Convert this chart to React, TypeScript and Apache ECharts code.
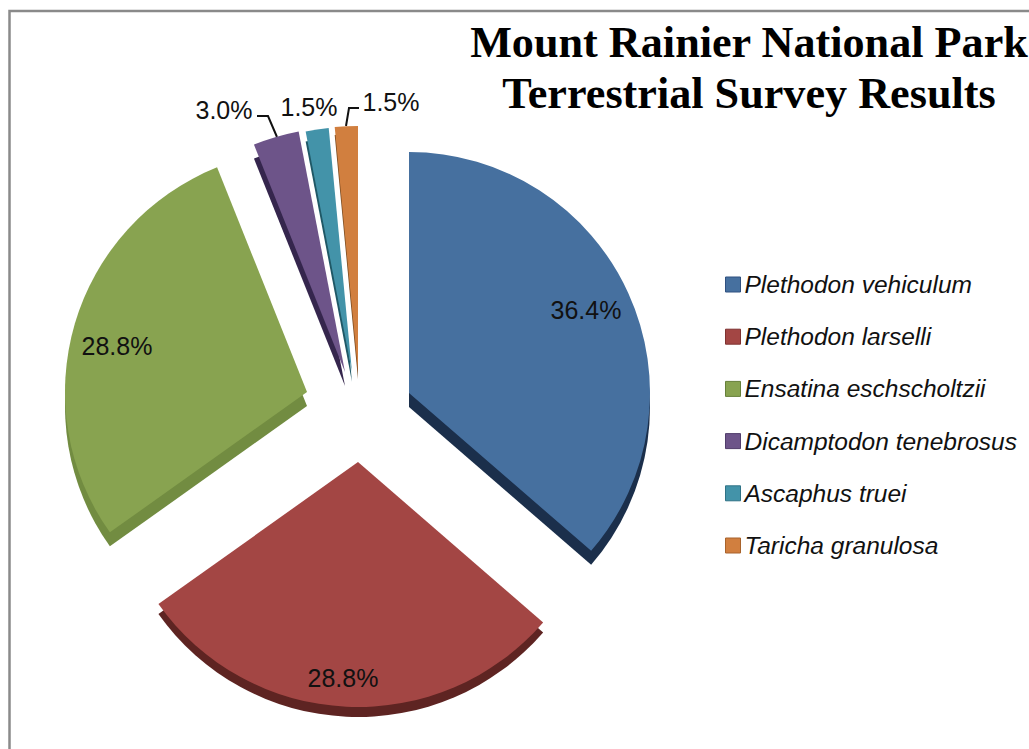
import React, { useEffect, useRef } from "react";
import * as echarts from "echarts";

// Data (percent labels correspond to these survey counts)
const titleLines = ["Mount Rainier National Park", "Terrestrial Survey Results"];
const species = [
  "Plethodon vehiculum",
  "Plethodon larselli",
  "Ensatina eschscholtzii",
  "Dicamptodon tenebrosus",
  "Ascaphus truei",
  "Taricha granulosa",
];
const counts = [24, 19, 19, 2, 1, 1];

// Styles
const topColors = ["#46709F", "#A34644", "#88A350", "#6D5489", "#4393A9", "#D17F3F"];
const sideColors = ["#1B2F4B", "#5E2422", "#728C41", "#35264D", "#1F5866", "#7A4A1F"];
const legendBorders = ["#2F5080", "#7F3230", "#66803A", "#513D6C", "#2F7286", "#A8632C"];

// Layout of each exploded slice
const apexes = [
  [409, 393],
  [358, 462],
  [307, 392],
  [345, 372],
  [352, 372],
  [358, 371],
];
const radii = [241, 245, 242, 245, 245, 245];
const depths = [14, 10, 14, 14, 10, 8];
const labelAnchors = [
  { x: 586, y: 310 },
  { x: 343, y: 678 },
  { x: 117, y: 346 },
  { x: 224, y: 110, line: [[277, 137], [268, 116], [257, 116]] },
  { x: 309, y: 107 },
  { x: 391, y: 102, line: [[346, 126], [349, 108], [359, 108]] },
];

const FONT = "Liberation Sans";

export default function App() {
  const ref = useRef<HTMLDivElement>(null);

  useEffect(() => {
    const chart = echarts.init(ref.current!, undefined, { renderer: "svg" });
    const total = counts.reduce((a, b) => a + b, 0);

    let cumulative = 0;
    const series: any[] = [];
    species.forEach((name, i) => {
      const value = counts[i];
      const startAngle = 90 - (360 * cumulative) / total;
      cumulative += value;
      const anchor = labelAnchors[i] as any;
      const common = {
        type: "pie",
        radius: [0, radii[i]],
        startAngle,
        silent: true,
        avoidLabelOverlap: false,
        emphasis: { disabled: true },
        animation: false,
      };
      const rest = {
        name: "",
        value: total - value,
        itemStyle: { color: "transparent", borderWidth: 0 },
        label: { show: false },
        labelLine: { show: false },
      };
      // side wall, drawn below the top face
      series.push({
        ...common,
        name: name + " side",
        z: 1,
        center: [apexes[i][0], apexes[i][1] + depths[i]],
        label: { show: false },
        labelLine: { show: false },
        data: [
          { name: name + " side", value, itemStyle: { color: sideColors[i] } },
          rest,
        ],
      });
      // top face with the percentage label
      series.push({
        ...common,
        name,
        z: 2,
        center: [apexes[i][0], apexes[i][1]],
        label: {
          show: true,
          position: i < 3 ? "inside" : "outside",
          formatter: (p: any) => ((p.value / total) * 100).toFixed(1) + "%",
          fontFamily: FONT,
          fontSize: 25,
          color: "#111111",
        },
        labelLine: {
          show: !!anchor.line,
          lineStyle: { color: "#111111", width: 2 },
        },
        labelLayout: () => ({
          x: anchor.x,
          y: anchor.y,
          align: "center",
          verticalAlign: "middle",
          ...(anchor.line ? { labelLinePoints: anchor.line } : {}),
        }),
        data: [
          { name, value, itemStyle: { color: topColors[i] } },
          rest,
        ],
      });
    });

    chart.setOption({
      animation: false,
      backgroundColor: "#ffffff",
      title: {
        text: titleLines.join("\n"),
        left: 744,
        top: 11.5,
        textAlign: "center",
        textStyle: {
          fontFamily: "Liberation Serif",
          fontWeight: "bold",
          fontSize: 44.2,
          lineHeight: 51,
          color: "#000000",
        },
      },
      legend: {
        orient: "vertical",
        left: 720,
        top: 267,
        itemWidth: 15,
        itemHeight: 15,
        itemGap: 27.2,
        icon: "rect",
        selectedMode: false,
        data: species.map((name, i) => ({
          name,
          itemStyle: { color: topColors[i], borderColor: legendBorders[i], borderWidth: 1 },
        })),
        textStyle: {
          fontFamily: FONT,
          fontStyle: "italic",
          fontSize: 24.5,
          lineHeight: 24,
          color: "#111111",
          padding: [0, 0, 0, -1],
        },
      },
      graphic: [
        {
          type: "rect",
          silent: true,
          shape: { x: 9.5, y: 11, width: 1200, height: 1000 },
          style: { fill: "none", stroke: "#8A8A8A", lineWidth: 2.5 },
        },
      ],
      series,
    });

    return () => chart.dispose();
  }, []);

  return (
    <div
      ref={ref}
      style={{ position: "absolute", left: 0, top: 0, width: 1029, height: 749 }}
    />
  );
}
